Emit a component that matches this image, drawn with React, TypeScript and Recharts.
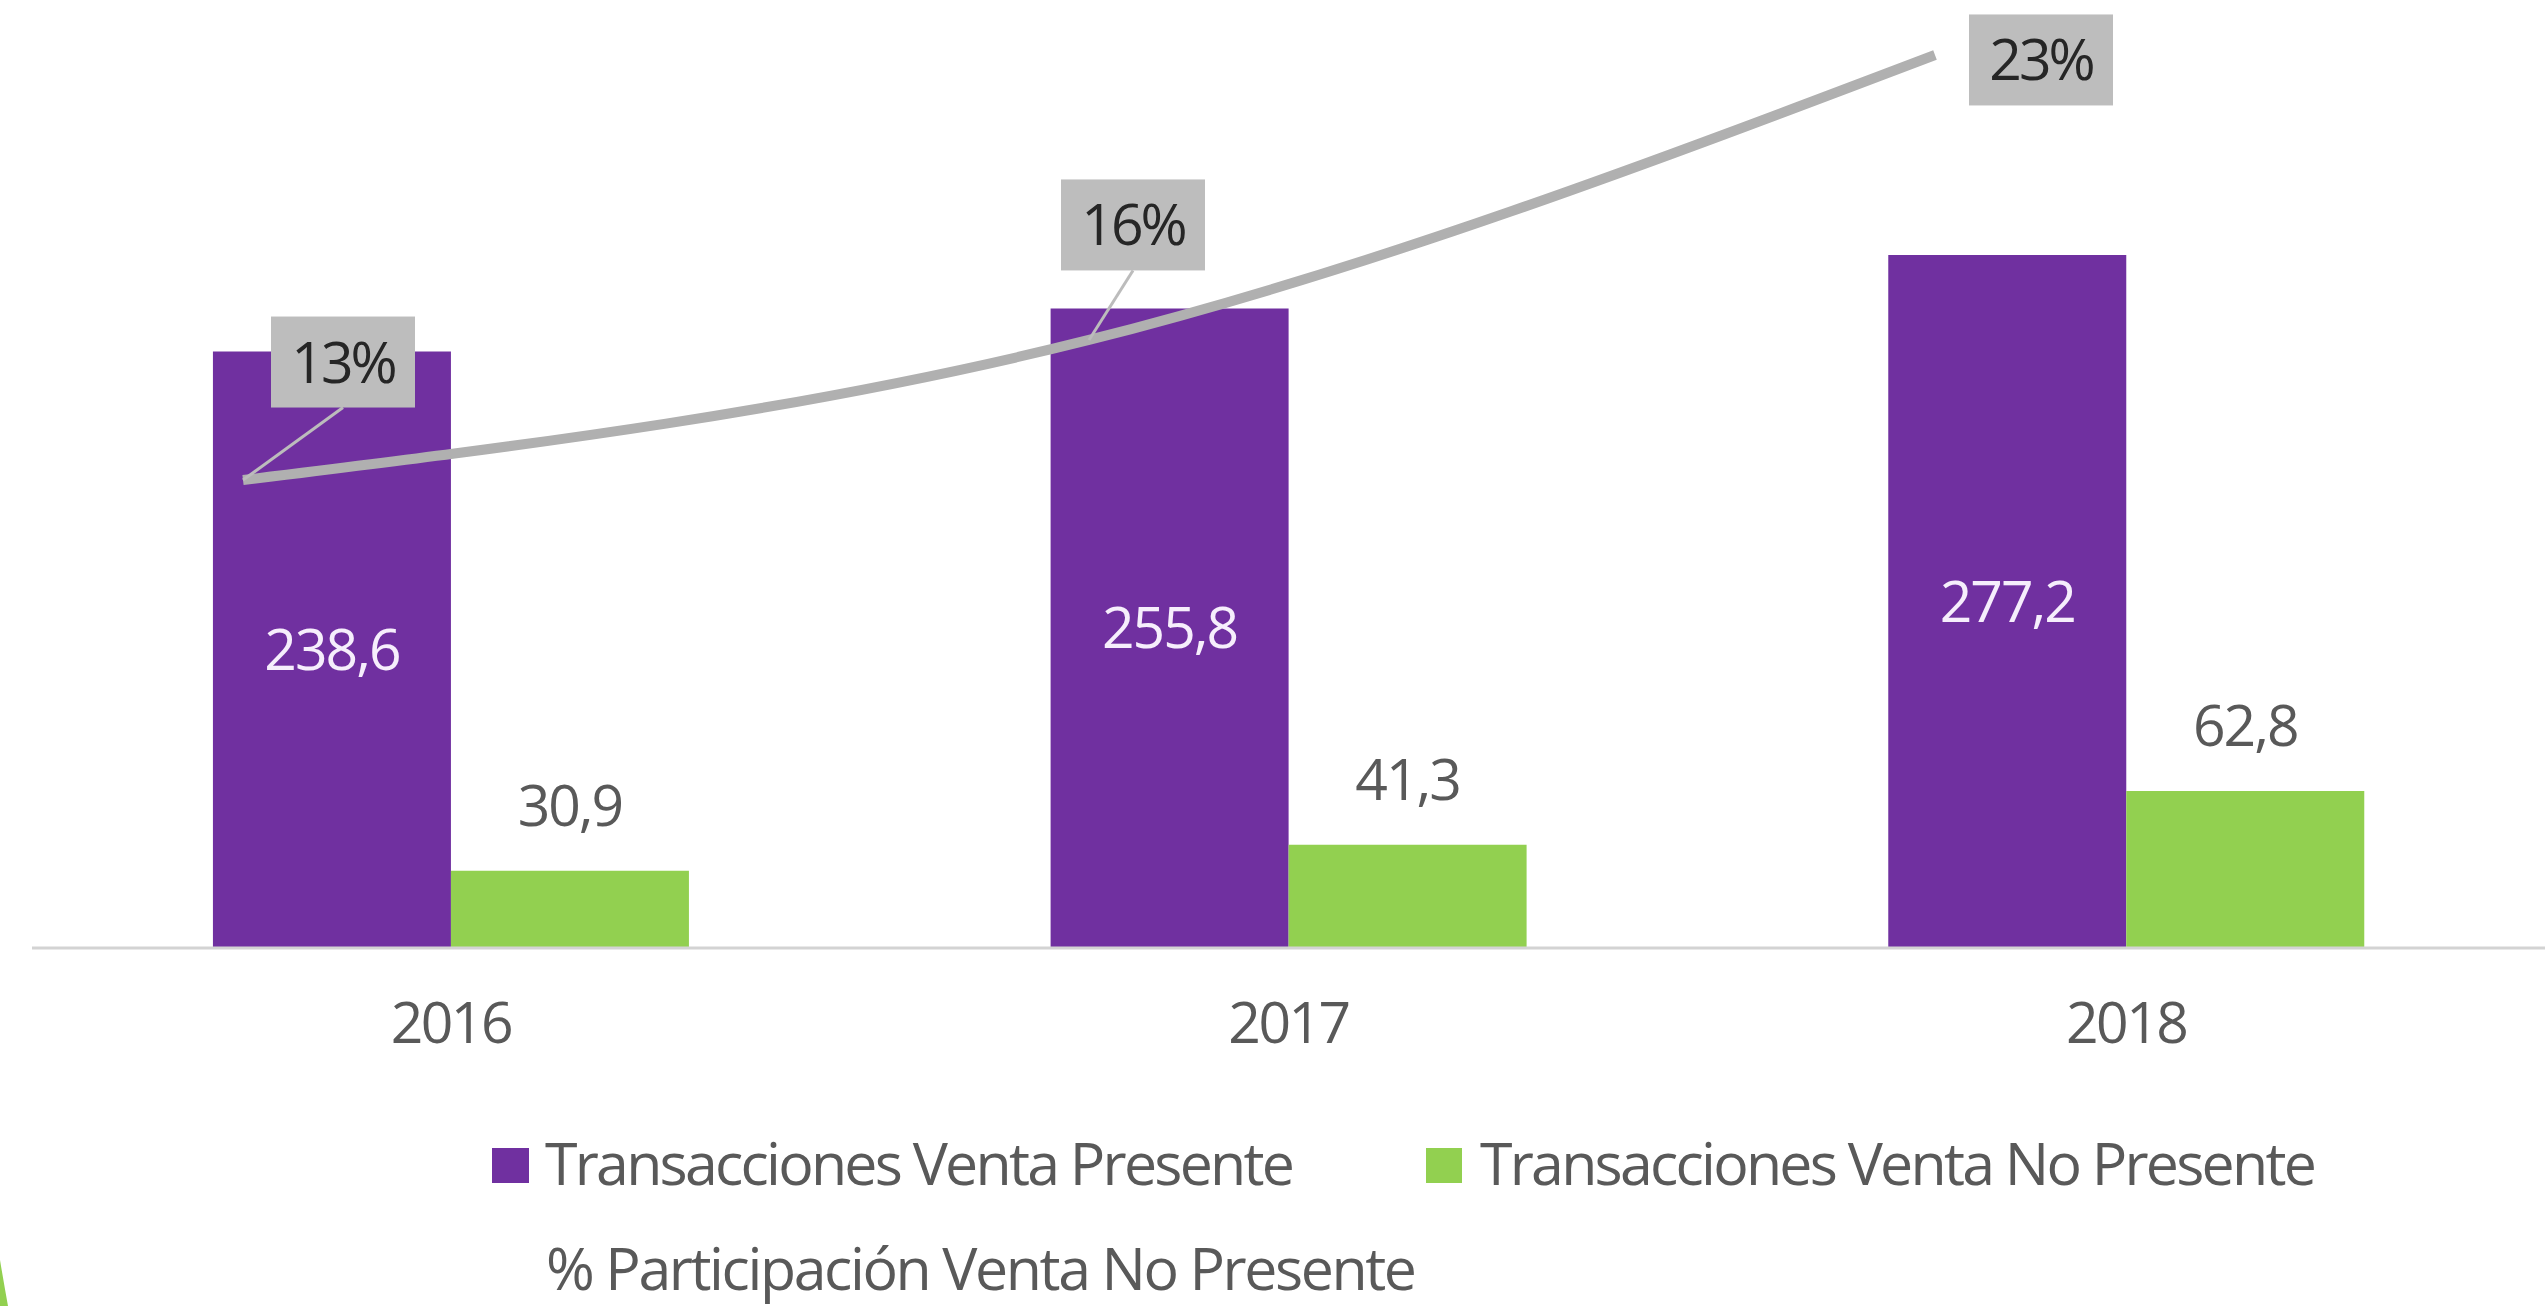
import React from "react";
import { ComposedChart, Bar, Line, XAxis, YAxis, Legend, LabelList } from "recharts";

const years = ["2016", "2017", "2018"];
const ventaPresente = [238.6, 255.8, 277.2];
const ventaNoPresente = [30.9, 41.3, 62.8];
// % participación (no presente / presente), shown rounded
const participacion = [12.95, 16.15, 22.66];

const seriesNames = [
  "Transacciones Venta Presente",
  "Transacciones Venta No Presente",
  "% Participación Venta No Presente",
];

const FONT = "'Open Sans', sans-serif";
const PURPLE = "#7030a0";
const GREEN = "#92d050";
const LINE_GRAY = "#b0b0b0";
const TEXT_GRAY = "#595959";

// where each % callout box sits relative to its point (dragged labels in the original)
const pctLabelOffsets = [
  { dx: 100, dy: -118, leader: true },
  { dx: 44, dy: -115, leader: true },
  { dx: 106, dy: 5, leader: false },
];

const data = years.map((year, i) => ({
  year,
  presente: ventaPresente[i],
  noPresente: ventaNoPresente[i],
  pct: participacion[i],
}));

const fmt = (v: number) => v.toFixed(1).replace(".", ",");

function PctLabel(props: any) {
  const { x, y, value, index } = props;
  const o = pctLabelOffsets[index];
  if (!o) return null;
  const cx = x + o.dx;
  const cy = y + o.dy;
  const w = 144;
  const h = 91;
  return (
    <g>
      {o.leader && (
        <line x1={cx} y1={cy + h / 2} x2={x} y2={y} stroke="#bcbcbc" strokeWidth={3} />
      )}
      <rect x={cx - w / 2} y={cy - h / 2} width={w} height={h} fill="#bdbdbd" />
      <text
        x={cx}
        y={cy}
        dy="0.36em"
        textAnchor="middle"
        fill="#262626"
        fontSize={57}
        fontFamily={FONT}
        letterSpacing={-3}
      >
        {`${Math.round(value)}%`}
      </text>
    </g>
  );
}

function LegendContent() {
  const textProps = {
    fill: TEXT_GRAY,
    fontSize: 59,
    fontFamily: FONT,
  };
  return (
    <svg width={2545} height={258}>
      <rect x={492} y={100} width={37} height={35} fill={PURPLE} />
      <text x={545} y={137} letterSpacing={-2.75} {...textProps}>
        {seriesNames[0]}
      </text>
      <rect x={1426} y={100} width={36} height={35} fill={GREEN} />
      <text x={1480} y={137} letterSpacing={-2.75} {...textProps}>
        {seriesNames[1]}
      </text>
      <text x={546} y={242} letterSpacing={-2.4} {...textProps}>
        {seriesNames[2]}
      </text>
    </svg>
  );
}

export default function App() {
  return (
    <div
      style={{
        position: "absolute",
        left: 0,
        top: 0,
        width: 2545,
        height: 1306,
        overflow: "hidden",
        background: "#fff",
      }}
    >
      <ComposedChart
        width={2545}
        height={1306}
        data={data}
        margin={{ top: 23, right: 0, bottom: 0, left: 32 }}
        barCategoryGap="21.6%"
        barGap={0}
      >
        <XAxis
          xAxisId="bars"
          dataKey="year"
          interval={0}
          tickLine={false}
          tickSize={0}
          tickMargin={55}
          height={100}
          axisLine={{ stroke: "#d3d3d3", strokeWidth: 3 }}
          tick={{ fill: TEXT_GRAY, fontSize: 57, fontFamily: FONT, letterSpacing: -2.5 }}
        />
        <XAxis
          xAxisId="pct"
          dataKey="year"
          scale="point"
          padding={{ left: 211, right: 610 }}
          hide
        />
        <YAxis yAxisId="val" domain={[0, 370]} hide />
        <YAxis yAxisId="pct" domain={[2.26, 23.39]} allowDataOverflow hide />
        <Bar
          xAxisId="bars"
          yAxisId="val"
          dataKey="presente"
          name={seriesNames[0]}
          fill={PURPLE}
          isAnimationActive={false}
        >
          <LabelList
            dataKey="presente"
            position="center"
            formatter={(v: any) => fmt(Number(v))}
            fill="#f6eefc"
            fontSize={57}
            fontFamily={FONT}
            letterSpacing={-2}
          />
        </Bar>
        <Bar
          xAxisId="bars"
          yAxisId="val"
          dataKey="noPresente"
          name={seriesNames[1]}
          fill={GREEN}
          isAnimationActive={false}
        >
          <LabelList
            dataKey="noPresente"
            position="top"
            offset={45}
            formatter={(v: any) => fmt(Number(v))}
            fill={TEXT_GRAY}
            fontSize={57}
            fontFamily={FONT}
            letterSpacing={-2}
          />
        </Bar>
        <Line
          xAxisId="pct"
          yAxisId="pct"
          type="monotone"
          dataKey="pct"
          name={seriesNames[2]}
          stroke={LINE_GRAY}
          strokeWidth={10}
          dot={false}
          activeDot={false}
          isAnimationActive={false}
        >
          <LabelList dataKey="pct" content={<PctLabel />} />
        </Line>
        <Legend
          verticalAlign="bottom"
          width={2545}
          height={258}
          content={<LegendContent />}
          wrapperStyle={{ left: 0, bottom: 0, width: 2545, height: 258 }}
        />
      </ComposedChart>
      {/* sliver of a green decorative arc in the bottom-left corner */}
      <svg
        width={20}
        height={50}
        style={{ position: "absolute", left: 0, top: 1256 }}
      >
        <path d="M0,4 Q4,28 8,50 L0,50 Z" fill={GREEN} />
      </svg>
    </div>
  );
}
